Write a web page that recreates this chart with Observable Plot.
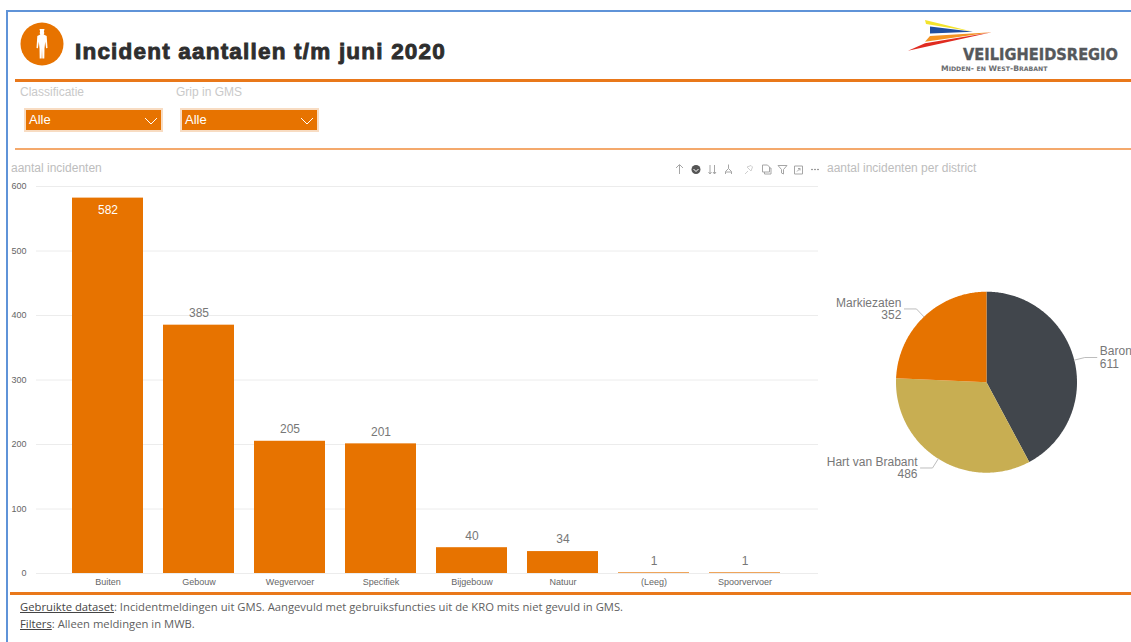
<!DOCTYPE html>
<html lang="nl">
<head>
<meta charset="utf-8">
<title>Incident aantallen t/m juni 2020</title>
<script src="https://cdn.jsdelivr.net/npm/d3@7"></script>
<script src="https://cdn.jsdelivr.net/npm/@observablehq/plot@0.6"></script>
<style>
  html, body { margin: 0; padding: 0; background: #fff; }
  body { position: relative; width: 1131px; height: 642px; overflow: hidden; font-family: "Liberation Sans", Arial, sans-serif; }
  .abs { position: absolute; }
  .rule { position: absolute; right: 0; }
  .label { position: absolute; color: #c9c9c9; font-size: 12px; line-height: 14px; white-space: nowrap; }
  .select { position: absolute; top: 108px; width: 135px; height: 20px; background: #e77300; border: 2px solid #f8dcc2; color: #fff; font-size: 13px; line-height: 19px; }
  .select span { position: absolute; left: 3px; top: 0; }
  .select svg { position: absolute; right: 2px; top: 6px; }
  h1 { position: absolute; margin: 0; left: 75px; top: 38px; font: bold 22.5px/28px "Liberation Sans", Arial, sans-serif; letter-spacing: 1.2px; color: #2e2e2e; white-space: nowrap; -webkit-text-stroke: 0.9px #2e2e2e; }
  .note { position: absolute; left: 20px; font: 11.25px/16px "Open Sans", sans-serif; color: #5f5f5f; white-space: nowrap; }
  .note u { color: #444; }
  svg { overflow: visible; }
</style>
</head>
<body>
<!-- report frame and section dividers -->
<div class="abs" style="left:6px;top:10px;width:2px;height:632px;background:#5f93d8"></div>
<div class="abs" style="left:6px;top:10px;right:0;height:2px;background:#5f93d8"></div>
<div class="rule" style="left:15px;top:79px;height:3px;background:#e9781a"></div>
<div class="rule" style="left:15px;top:148px;height:2px;background:#f4a96c"></div>
<div class="rule" style="left:10px;top:592px;height:3px;background:#e9781a"></div>

<!-- header badge -->
<svg class="abs" style="left:20px;top:22px" width="44" height="44" viewBox="0 0 44 44">
  <circle cx="22" cy="22" r="21.5" fill="#e77300"/>
  <path fill="#fff" d="M19.500 7h5l-.6 2.600a2.600 2.600 0 0 1-.2 3l3 1.400.8 12-1.400.3-.9-6.600-.7 6.500-.2 10.300h-2l-.3-10.500-.3 10.500h-2l-.2-10.300-.7-6.500-.9 6.600-1.400-.3.8-12 3-1.400a2.600 2.600 0 0 1-.2-3z"/>
</svg>
<h1>Incident aantallen t/m juni 2020</h1>

<!-- organisation mark -->
<svg class="abs" style="left:900px;top:14px" width="231" height="62" viewBox="900 14 231 62">
  <polygon fill="#f3e32c" points="925,20 972,31.500 926,24"/>
  <polygon fill="#1f4ea0" points="930,26.500 973,31.700 930,33.500"/>
  <polygon fill="#f39322" points="930,36 991.700,32.300 925,41.700"/>
  <polygon fill="#e02b20" points="925,43.300 991.700,32.300 908,50.700"/>
  <text x="963" y="59.500" font-family="DejaVu Sans" font-weight="bold" font-size="15.500" textLength="155" lengthAdjust="spacingAndGlyphs" fill="#55585b" stroke="#55585b" stroke-width=".35">VEILIGHEIDSREGIO</text>
  <text x="941" y="70.500" font-family="DejaVu Sans" font-weight="bold" font-size="7.700" fill="#6b6d70">M<tspan font-size="6.200">IDDEN</tspan>- <tspan font-size="6.200">EN</tspan> W<tspan font-size="6.200">EST</tspan>-B<tspan font-size="6.200">RABANT</tspan></text>
</svg>

<!-- slicers -->
<div class="label" style="left:20px;top:85px">Classificatie</div>
<div class="label" style="left:176px;top:85px">Grip in GMS</div>
<div class="select" style="left:24px"><span>Alle</span><svg width="16" height="10"><path d="M2 2l6 6 6-6" fill="none" stroke="#fff" stroke-width="1"/></svg></div>
<div class="select" style="left:180px"><span>Alle</span><svg width="16" height="10"><path d="M2 2l6 6 6-6" fill="none" stroke="#fff" stroke-width="1"/></svg></div>

<div class="label" style="left:11px;top:161px;color:#bdbdbd">aantal incidenten</div>
<div class="label" style="left:827px;top:161px;color:#bdbdbd">aantal incidenten per district</div>

<!-- visual header toolbar -->
<svg class="abs" style="left:670px;top:160px" width="152" height="18" viewBox="670 160 152 18" fill="none" stroke="#a6a6a6" stroke-width="1">
  <path d="M679.500 174v-9M676 168l3.500-3.500 3.500 3.500"/>
  <circle cx="696" cy="169.500" r="4.500" fill="#555" stroke="none"/>
  <path d="M693.500 169l2.500 2.500 2.500-2.500" stroke="#fff"/>
  <path d="M710 165v9M708.500 172l1.500 2 1.500-2M714.500 165v9M713 172l1.500 2 1.500-2"/>
  <path d="M728.500 164.500v4M728.500 168.500l-3 3v2.500M728.500 168.500l3 3v2.500M725.500 172h6"/>
  <path d="M745 174l3-3M747 167l4 4 1.500-4-1.500-1.500z" stroke="#cfcfcf"/>
  <path d="M762.500 165h5l2 2v5h-7zM764.500 172v2h6.500v-6h-1.500"/>
  <path d="M778 165.500h9l-3.500 4v4.500l-2-1v-3.500z"/>
  <path d="M794.500 166h8v8h-8zM797 171.500l3-3M798 168.500h2v2"/>
  <circle cx="812" cy="169.500" r=".8" fill="#777" stroke="none"/><circle cx="815" cy="169.500" r=".8" fill="#777" stroke="none"/><circle cx="818" cy="169.500" r=".8" fill="#777" stroke="none"/>
</svg>

<div id="bars" class="abs" style="left:0;top:176px"></div>
<div id="pie" class="abs" style="left:822px;top:200px"></div>

<div class="note" style="top:599px"><u>Gebruikte dataset</u>: Incidentmeldingen uit GMS. Aangevuld met gebruiksfuncties uit de KRO mits niet gevuld in GMS.</div>
<div class="note" style="top:616px"><u>Filters</u>: Alleen meldingen in MWB.</div>

<script>
// Incidents per category
const categories = ["Buiten", "Gebouw", "Wegvervoer", "Specifiek", "Bijgebouw", "Natuur", "(Leeg)", "Spoorvervoer"];
const counts = [582, 385, 205, 201, 40, 34, 1, 1];
const yTicks = [0, 100, 200, 300, 400, 500, 600];

// Incidents per district
const districts = ["Baron", "Hart van Brabant", "Markiezaten"];
const districtCounts = [611, 486, 352];
const districtColors = ["#41464c", "#c8ae52", "#e67300"];

const orange = "#e77300";
const barRows = categories.map((category, i) => ({category, count: counts[i]}));

const barChart = Plot.plot({
  width: 830,
  height: 416,
  marginLeft: 36,
  marginRight: 12,
  marginTop: 10,
  marginBottom: 19,
  style: {background: "transparent", fontFamily: "'Liberation Sans', Arial, sans-serif"},
  x: {domain: categories, range: [61.5, 790.5], paddingInner: 0.215, paddingOuter: 0.1075, label: null},
  y: {domain: [0, 600], label: null},
  marks: [
    Plot.ruleY(yTicks, {stroke: "#ececec", strokeWidth: 1}),
    Plot.barY(barRows, {x: "category", y: "count", fill: orange}),
    Plot.axisY({ticks: yTicks, tickSize: 0, tickPadding: 10, fontSize: 9, fill: "#666", label: null}),
    Plot.axisX({tickSize: 0, tickPadding: 5, fontSize: 9, fill: "#666", label: null}),
    Plot.text(barRows.filter(d => d.count >= 500), {x: "category", y: "count", text: "count", dy: 12, fill: "#fff", fontSize: 12}),
    Plot.text(barRows.filter(d => d.count < 500), {x: "category", y: "count", text: "count", dy: -12, fill: "#777", fontSize: 12})
  ]
});
document.getElementById("bars").append(barChart);

// Slices run clockwise from twelve o'clock; outlines are traced in unit-circle coordinates.
const slices = d3.pie().sort(null)(districtCounts).map((s, i) => ({
  district: districts[i], value: s.value, start: s.startAngle, end: s.endAngle, mid: (s.startAngle + s.endAngle) / 2
}));
const onCircle = (angle, r = 1) => [r * Math.sin(angle), r * Math.cos(angle)];

const outline = slices.flatMap(s => {
  const steps = Math.ceil((s.end - s.start) * 90);
  const rim = d3.range(steps + 1).map(k => onCircle(s.start + (s.end - s.start) * k / steps));
  return [[0, 0], ...rim].map(([x, y]) => ({district: s.district, x, y}));
});

// Leader lines: radial stub, then a short horizontal run towards the label
const elbowRadius = 1.12, run = 0.133;
const leaders = slices.map(s => {
  const [ax, ay] = onCircle(s.mid);
  const [ex, ey] = onCircle(s.mid, elbowRadius);
  const side = ex < 0 ? -1 : 1;
  return {district: s.district, value: s.value, side, points: [[ax, ay], [ex, ey], [ex + side * run, ey]]};
});
const leaderPoints = leaders.flatMap(l => l.points.map(([x, y]) => ({district: l.district, x, y})));
const leaderLabels = leaders.map(l => ({x: l.points[2][0], y: l.points[2][1], side: l.side, text: `${l.district}\n${l.value}`}));

const pieChart = Plot.plot({
  width: 309,
  height: 370,
  margin: 0,
  style: {background: "transparent", fontFamily: "'Liberation Sans', Arial, sans-serif"},
  x: {domain: [-1, 1], range: [73.5, 254.5], axis: null},
  y: {domain: [-1, 1], range: [272.2, 91.2], axis: null},
  color: {domain: districts, range: districtColors},
  marks: [
    Plot.line(outline, {x: "x", y: "y", fill: "district", stroke: "none"}),
    Plot.line(leaderPoints, {x: "x", y: "y", z: "district", stroke: "#bdbdbd", strokeWidth: 1}),
    Plot.text(leaderLabels.filter(d => d.side < 0), {x: "x", y: "y", text: "text", textAnchor: "end", dx: -3, fill: "#777", fontSize: 12, lineHeight: 1.05}),
    Plot.text(leaderLabels.filter(d => d.side > 0), {x: "x", y: "y", text: "text", textAnchor: "start", dx: 3, fill: "#777", fontSize: 12, lineHeight: 1.05})
  ]
});
document.getElementById("pie").append(pieChart);
</script>
</body>
</html>
